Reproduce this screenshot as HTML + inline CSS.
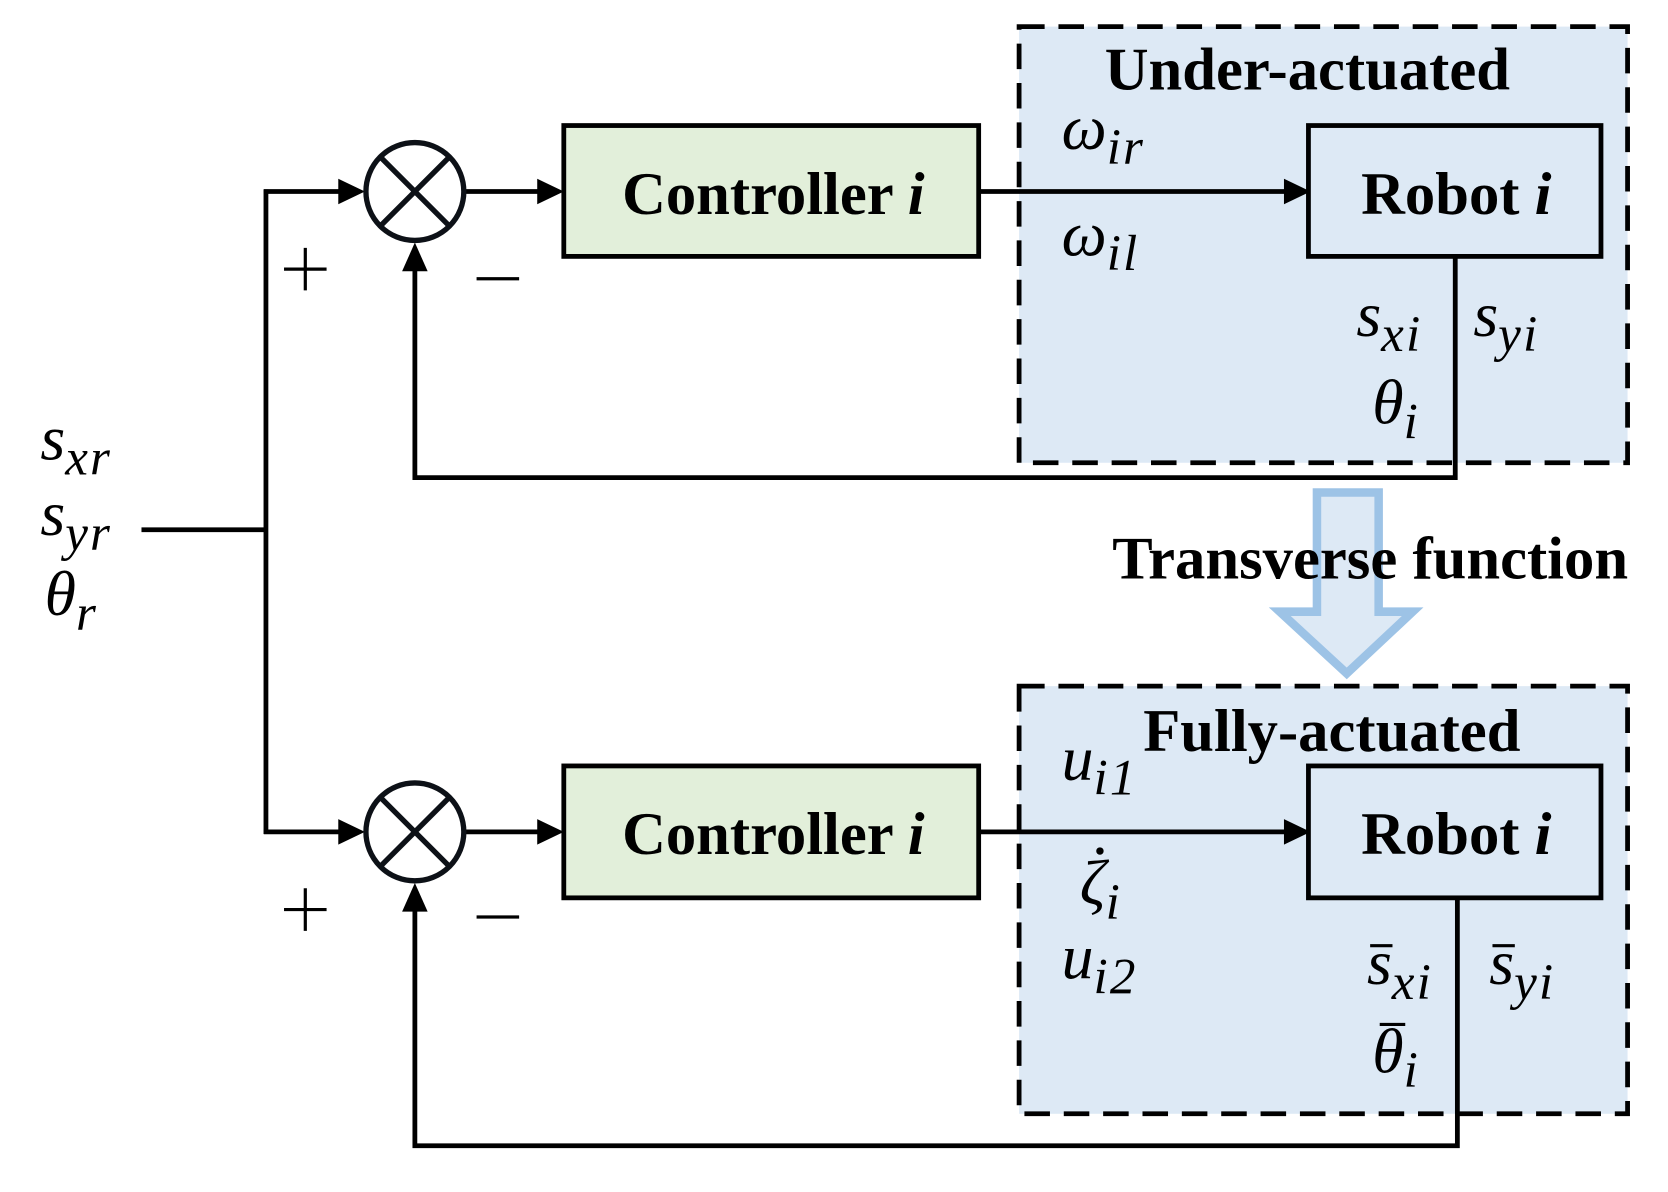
<!DOCTYPE html>
<html><head><meta charset="utf-8"><style>
html,body{margin:0;padding:0;background:#fff;}
svg{display:block;}
.b{font-family:"Liberation Serif",serif;font-weight:bold;}
.m{font-family:"Liberation Serif",serif;font-style:italic;}
</style></head><body>
<svg width="1668" height="1192" viewBox="0 0 1568 1120.5" xmlns="http://www.w3.org/2000/svg">
<rect x="958" y="25" width="572" height="410" fill="#dde9f5" stroke="#000" stroke-width="4.5" stroke-dasharray="24,13"/>
<rect x="958" y="645" width="572" height="402" fill="#dde9f5" stroke="#000" stroke-width="4.5" stroke-dasharray="24,13"/>
<path d="M1238,463 L1296,463 L1296,575 L1328,575 L1266,633 L1203,575 L1238,575 Z" fill="#dde9f5" stroke="#9dc3e6" stroke-width="8"/>
<rect x="530" y="118" width="390" height="123" fill="#e2efda" stroke="#000" stroke-width="4.5"/>
<rect x="530" y="720" width="390" height="124" fill="#e2efda" stroke="#000" stroke-width="4.5"/>
<rect x="1230" y="118" width="275" height="123" fill="#dde9f5" stroke="#000" stroke-width="4.5"/>
<rect x="1230" y="720" width="275" height="124" fill="#dde9f5" stroke="#000" stroke-width="4.5"/>
<g stroke="#000" stroke-width="4.5" fill="none">
<path d="M133,498 H250"/>
<path d="M250,178 V784"/>
<path d="M248,180 H325"/>
<path d="M248,782 H325"/>
<path d="M437,180 H512"/>
<path d="M437,782 H512"/>
<path d="M920,180 H1212"/>
<path d="M920,782 H1212"/>
<path d="M1368,241 V449 H390 V246"/>
<path d="M1370,844 V1077 H390 V848"/>
</g>
<g fill="#000">
<path d="M343,180 L318,168 L318,192 Z"/>
<path d="M343,782 L318,770 L318,794 Z"/>
<path d="M530,180 L505,168 L505,192 Z"/>
<path d="M530,782 L505,770 L505,794 Z"/>
<path d="M1232,180 L1207,168 L1207,192 Z"/>
<path d="M1232,782 L1207,770 L1207,794 Z"/>
<path d="M390,228 L378,255 L402,255 Z"/>
<path d="M390,830 L378,857 L402,857 Z"/>
</g>
<g stroke="#0d1117" stroke-width="5" fill="#fff">
<circle cx="390" cy="180" r="46"/>
<circle cx="390" cy="782" r="46"/>
</g>
<g stroke="#0d1117" stroke-width="5">
<path d="M357,147 L423,213 M423,147 L357,213"/>
<path d="M357,749 L423,815 M423,749 L357,815"/>
</g>
<g stroke="#000" stroke-width="3">
<path d="M267,253 H307 M287,233 V273"/>
<path d="M448,262 H488"/>
<path d="M267,855 H307 M287,835 V875"/>
<path d="M448,862 H488"/>
</g>
<text class="b" x="1229" y="84" font-size="57" text-anchor="middle">Under-actuated</text>
<text class="b" x="1252" y="706" font-size="57" text-anchor="middle">Fully-actuated</text>
<text class="b" x="1288" y="544" font-size="57" text-anchor="middle">Transverse function</text>
<text class="b" x="727" y="201" font-size="57" text-anchor="middle">Controller <tspan font-style="italic">i</tspan></text>
<text class="b" x="727" y="803" font-size="57" text-anchor="middle">Controller <tspan font-style="italic">i</tspan></text>
<text class="b" x="1369" y="201" font-size="57" text-anchor="middle">Robot <tspan font-style="italic">i</tspan></text>
<text class="b" x="1369" y="803" font-size="57" text-anchor="middle">Robot <tspan font-style="italic">i</tspan></text>
<g class="m" font-size="60">
<text x="38" y="432">s<tspan font-size="48" dy="14" letter-spacing="2">xr</tspan></text>
<text x="38" y="503">s<tspan font-size="48" dy="14" letter-spacing="2">yr</tspan></text>
<text x="42" y="578">θ<tspan font-size="48" dy="14">r</tspan></text>
<text x="998" y="140">ω<tspan font-size="48" dy="14" letter-spacing="2">ir</tspan></text>
<text x="998" y="240">ω<tspan font-size="48" dy="14" letter-spacing="2">il</tspan></text>
<text x="1275" y="316">s<tspan font-size="48" dy="14" letter-spacing="2">xi</tspan></text>
<text x="1385" y="316">s<tspan font-size="48" dy="14" letter-spacing="2">yi</tspan></text>
<text x="1290" y="398">θ<tspan font-size="48" dy="14">i</tspan></text>
<text x="998" y="733">u<tspan font-size="48" dy="14" letter-spacing="2">i1</tspan></text>
<text x="1015" y="850">ζ<tspan font-size="48" dy="14">i</tspan></text>
<text x="998" y="920">u<tspan font-size="48" dy="14" letter-spacing="2">i2</tspan></text>
<text x="1285" y="925">s<tspan font-size="48" dy="14" letter-spacing="2">xi</tspan></text>
<text x="1400" y="925">s<tspan font-size="48" dy="14" letter-spacing="2">yi</tspan></text>
<text x="1290" y="1008">θ<tspan font-size="48" dy="14">i</tspan></text>
</g>
<circle cx="1034" cy="800" r="3.5" fill="#000"/>
<g stroke="#000" stroke-width="3">
<path d="M1288,889 H1309"/>
<path d="M1403,889 H1424"/>
<path d="M1297,963 H1321"/>
</g>
</svg>
</body></html>
